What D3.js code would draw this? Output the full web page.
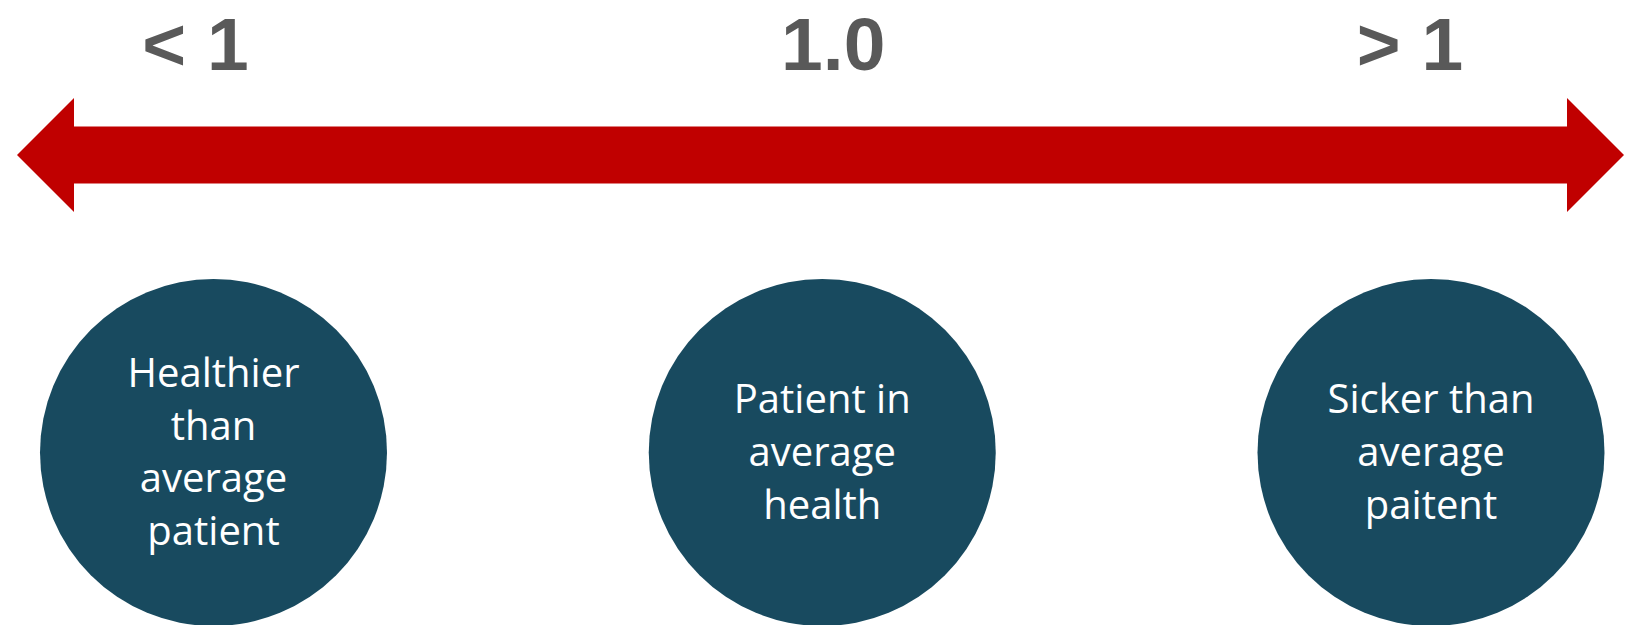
<!DOCTYPE html>
<html>
<head>
<meta charset="utf-8">
<script src="https://cdn.jsdelivr.net/npm/d3@7"></script>
<style>
  html, body { margin: 0; padding: 0; background: #ffffff; }
  svg { display: block; }
</style>
</head>
<body>
<svg id="chart" width="1626" height="625"></svg>
<script>
// ---- data ----
const categories = ["healthier", "average", "sicker"];
const scaleLabels = ["< 1", "1.0", "> 1"];
const circleTexts = [
  ["Healthier", "than", "average", "patient"],
  ["Patient in", "average", "health"],
  ["Sicker than", "average", "paitent"]
];

// ---- layout ----
const W = 1626, H = 625;
const svg = d3.select("#chart");

const x = d3.scalePoint().domain(categories).range([213.5, 1431]);
const labelDx = [-18, 11, -21];

// arrow geometry
const arrowY = 155, shaftHalf = 28.5, headHalf = 57, headLen = 57;
const ax = d3.scaleLinear().domain([0, 1]).range([17, 1624]);
const x0 = ax(0), x1 = ax(1);
const p = d3.path();
p.moveTo(x0, arrowY);
p.lineTo(x0 + headLen, arrowY - headHalf);
p.lineTo(x0 + headLen, arrowY - shaftHalf);
p.lineTo(x1 - headLen, arrowY - shaftHalf);
p.lineTo(x1 - headLen, arrowY - headHalf);
p.lineTo(x1, arrowY);
p.lineTo(x1 - headLen, arrowY + headHalf);
p.lineTo(x1 - headLen, arrowY + shaftHalf);
p.lineTo(x0 + headLen, arrowY + shaftHalf);
p.lineTo(x0 + headLen, arrowY + headHalf);
p.closePath();
svg.append("path").attr("d", p.toString()).attr("fill", "#C00000");

// top labels
svg.selectAll("text.scale")
  .data(scaleLabels)
  .join("text")
  .attr("class", "scale")
  .attr("x", (d, i) => x(categories[i]) + labelDx[i])
  .attr("y", 70)
  .attr("text-anchor", "middle")
  .attr("font-family", "'Liberation Sans', Arial, sans-serif")
  .attr("font-weight", 700)
  .attr("font-size", 75)
  .attr("fill", "#595959")
  .text(d => d);

// circles
const cy = 452.5, r = 173.5, lineH = 52.7;
const g = svg.selectAll("g.node")
  .data(categories)
  .join("g")
  .attr("class", "node")
  .attr("transform", d => `translate(${x(d)},${cy})`);

g.append("circle").attr("r", r).attr("fill", "#184A5F");

g.each(function(d, i) {
  const lines = circleTexts[i];
  const t = d3.select(this).append("text")
    .attr("text-anchor", "middle")
    .attr("font-family", "'Open Sans', sans-serif")
    .attr("font-size", 40)
    .attr("fill", "#ffffff");
  const n = lines.length;
  lines.forEach((ln, k) => {
    t.append("tspan")
      .attr("x", 0)
      .attr("y", 13.5 + (k - (n - 1) / 2) * lineH)
      .text(ln);
  });
});
</script>
</body>
</html>
